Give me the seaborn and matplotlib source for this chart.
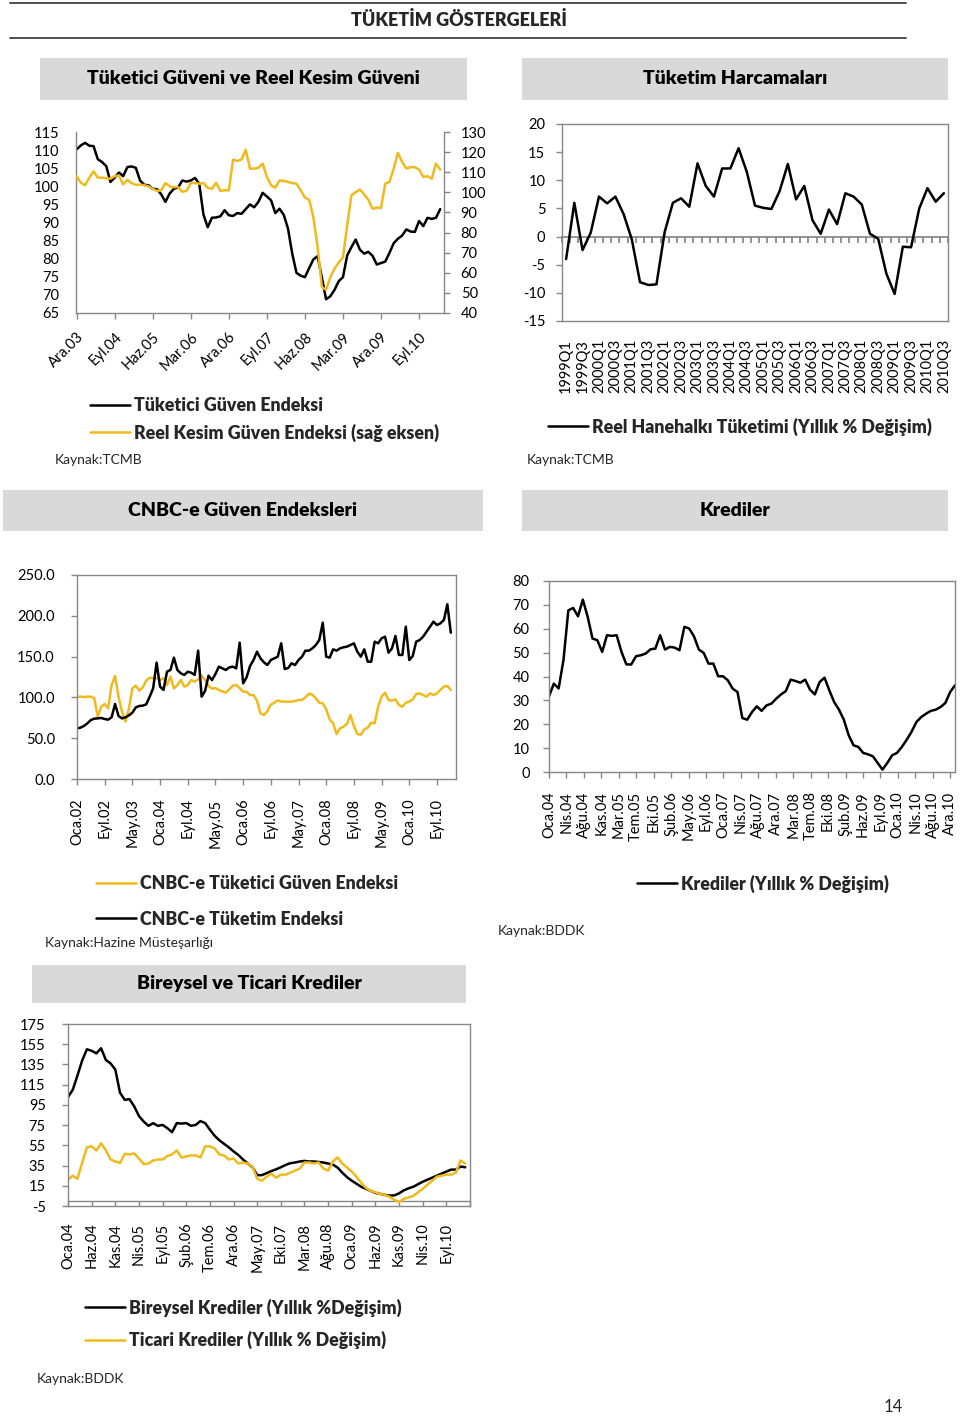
import numpy as np
import matplotlib
matplotlib.use("Agg")
import matplotlib.pyplot as plt
import seaborn as sns
from matplotlib.patches import Rectangle
from matplotlib.lines import Line2D
from matplotlib.ticker import FormatStrFormatter

sns.set_theme(style="white")
plt.rcParams['font.family'] = ['Lato', 'DejaVu Sans']
plt.rcParams['axes.unicode_minus'] = False

# ------------------------------------------------------------------ data
guven_labels = ['Ara.03', 'Eyl.04', 'Haz.05', 'Mar.06', 'Ara.06', 'Eyl.07',
                'Haz.08', 'Mar.09', 'Ara.09', 'Eyl.10']
tuketici_guven = [110.2, 111.3, 112.0, 111.2, 111.1, 107.5, 106.7, 105.6, 101.2, 102.4,
                  103.8, 102.8, 105.3, 105.5, 105.1, 101.6, 100.4, 100.3, 99.3, 99.2,
                  97.8, 95.7, 98.0, 99.3, 99.7, 101.6, 101.3, 101.6, 102.3, 100.7,
                  92.2, 88.7, 91.3, 91.4, 91.7, 93.4, 92.0, 91.8, 92.6, 92.4,
                  93.7, 95.0, 94.2, 95.7, 98.2, 97.2, 96.1, 92.6, 93.8, 92.1,
                  88.3, 81.4, 76.1, 75.3, 74.9, 77.4, 79.8, 80.7, 74.9, 68.8,
                  69.6, 71.4, 73.8, 74.9, 80.9, 83.2, 85.3, 82.5, 81.4, 81.9,
                  80.8, 78.4, 78.8, 79.2, 81.6, 84.3, 85.5, 86.4, 88.1, 87.5,
                  87.4, 90.4, 89.0, 91.3, 91.0, 91.3, 93.7]
reel_kesim_guven = [108.0, 104.8, 103.5, 107.3, 110.4, 107.3, 107.3, 107.0, 106.8, 108.0,
                    108.4, 103.9, 106.2, 104.6, 103.7, 103.9, 103.5, 103.0, 101.7, 100.7,
                    101.0, 104.6, 103.0, 102.6, 102.6, 100.3, 100.7, 104.6, 104.6, 104.3,
                    104.6, 102.3, 101.7, 104.8, 100.7, 101.0, 101.0, 116.3, 115.6, 116.3,
                    121.2, 111.8, 111.8, 112.2, 114.3, 107.7, 103.5, 102.3, 105.9, 105.7,
                    105.2, 104.6, 104.3, 101.0, 97.4, 96.3, 87.7, 72.8, 53.0, 51.5,
                    57.8, 62.0, 65.2, 67.7, 83.6, 98.5, 100.1, 101.4, 99.0, 96.3,
                    91.8, 92.4, 92.2, 104.3, 105.2, 111.8, 119.6, 115.1, 111.8, 112.5,
                    112.5, 111.3, 107.7, 108.0, 106.8, 114.3, 111.3]

harcama_labels = ['1999Q1', '1999Q3', '2000Q1', '2000Q3', '2001Q1', '2001Q3',
                  '2002Q1', '2002Q3', '2003Q1', '2003Q3', '2004Q1', '2004Q3',
                  '2005Q1', '2005Q3', '2006Q1', '2006Q3', '2007Q1', '2007Q3',
                  '2008Q1', '2008Q3', '2009Q1', '2009Q3', '2010Q1', '2010Q3']
reel_tuketim = [-4.0, 6.0, -2.4, 0.7, 7.1, 5.9, 7.1, 4.0, -0.5, -8.1,
                -8.6, -8.5, 0.8, 6.0, 6.8, 5.3, 13.0, 9.0, 7.1, 12.1,
                12.1, 15.7, 11.5, 5.5, 5.1, 4.9, 8.1, 12.9, 6.6, 9.0,
                2.9, 0.5, 4.8, 2.2, 7.7, 7.1, 5.7, 0.5, -0.4, -6.6,
                -10.2, -1.8, -1.9, 5.0, 8.6, 6.2, 7.7]

cnbc_labels = ['Oca.02', 'Eyl.02', 'May.03', 'Oca.04', 'Eyl.04', 'May.05', 'Oca.06',
               'Eyl.06', 'May.07', 'Oca.08', 'Eyl.08', 'May.09', 'Oca.10', 'Eyl.10']
cnbc_tuketim = [62.1, 62.9, 65.0, 68.2, 72.3, 73.9, 74.3, 74.8, 73.5, 72.7,
                75.6, 91.9, 77.2, 74.3, 75.6, 78.0, 81.3, 87.8, 89.5, 89.9,
                91.5, 100.9, 111.1, 142.6, 113.2, 109.1, 131.5, 133.6, 148.7, 133.6,
                129.5, 127.5, 131.5, 130.3, 127.5, 157.3, 100.9, 107.8, 126.6, 121.3,
                128.7, 137.7, 135.6, 133.6, 136.8, 137.7, 135.6, 167.1, 117.2, 124.6,
                138.5, 145.8, 156.0, 147.9, 143.0, 139.7, 145.8, 147.9, 149.9, 166.3,
                134.8, 136.0, 141.8, 139.7, 145.8, 149.9, 157.3, 157.3, 160.1, 164.2,
                170.3, 191.6, 149.9, 148.7, 158.9, 157.3, 160.1, 161.4, 162.2, 164.2,
                166.3, 156.0, 149.9, 158.9, 143.8, 143.8, 168.3, 166.3, 172.4, 174.4,
                154.8, 160.1, 175.3, 152.0, 152.0, 186.7, 145.8, 150.7, 168.3, 170.3,
                174.4, 180.6, 186.7, 192.8, 188.7, 190.8, 194.9, 214.1, 179.3]
cnbc_guven = [100.9, 100.9, 100.5, 100.9, 100.9, 98.9, 76.4, 88.6, 91.9, 86.6,
              115.2, 126.2, 100.9, 82.5, 70.3, 86.6, 111.1, 114.4, 108.3, 112.3,
              120.5, 124.2, 123.4, 123.4, 121.3, 123.4, 115.2, 125.4, 111.1, 115.2,
              121.3, 113.2, 115.2, 121.3, 119.3, 122.1, 126.6, 121.3, 114.0, 110.7,
              111.5, 109.1, 107.4, 105.8, 109.9, 114.4, 115.2, 111.5, 107.0, 107.0,
              102.9, 102.9, 96.0, 80.5, 78.4, 83.3, 91.1, 93.5, 96.4, 94.8,
              94.8, 94.8, 94.8, 95.6, 96.8, 96.8, 100.1, 104.6, 103.4, 98.9,
              93.5, 92.7, 85.4, 73.1, 68.2, 55.1, 62.1, 64.1, 67.4, 78.4,
              65.0, 55.1, 54.3, 60.9, 62.9, 69.0, 68.2, 88.6, 100.9, 105.8,
              96.8, 96.0, 97.6, 90.7, 88.6, 93.5, 94.8, 97.6, 104.2, 105.0,
              102.9, 100.9, 105.0, 102.9, 105.0, 109.1, 113.2, 114.0, 109.1]

kredi_labels = ['Oca.04', 'Nis.04', 'Ağu.04', 'Kas.04', 'Mar.05', 'Tem.05', 'Eki.05',
                'Şub.06', 'May.06', 'Eyl.06', 'Oca.07', 'Nis.07', 'Ağu.07', 'Ara.07',
                'Mar.08', 'Tem.08', 'Eki.08', 'Şub.09', 'Haz.09', 'Eyl.09', 'Oca.10',
                'Nis.10', 'Ağu.10', 'Ara.10']
krediler = [31.7, 37.0, 35.0, 47.0, 67.7, 68.7, 65.2, 72.2, 65.0, 55.9,
            55.2, 50.3, 57.3, 57.0, 57.3, 50.3, 45.1, 45.0, 48.5, 48.9,
            49.6, 51.4, 51.7, 57.3, 51.3, 52.4, 52.1, 51.0, 60.8, 60.1,
            56.8, 51.3, 49.9, 45.4, 45.4, 40.1, 40.1, 38.4, 34.9, 33.5,
            22.6, 21.9, 25.1, 27.5, 25.6, 27.9, 28.6, 30.7, 32.5, 33.9,
            38.7, 38.1, 37.4, 38.7, 34.5, 32.5, 37.7, 39.5, 34.2, 29.3,
            26.1, 21.9, 15.4, 11.2, 10.5, 8.0, 7.4, 6.6, 3.8, 1.0,
            3.8, 7.0, 8.0, 10.5, 13.5, 16.8, 20.9, 23.0, 24.4, 25.6,
            26.1, 27.2, 28.9, 33.5, 36.3]

bt_labels = ['Oca.04', 'Haz.04', 'Kas.04', 'Nis.05', 'Eyl.05', 'Şub.06', 'Tem.06',
             'Ara.06', 'May.07', 'Eki.07', 'Mar.08', 'Ağu.08', 'Oca.09', 'Haz.09',
             'Kas.09', 'Nis.10', 'Eyl.10']
bireysel = [102.7, 109.9, 124, 139, 150, 148.5, 146, 151, 139.5, 136,
            130, 107, 100, 100.7, 93.5, 84, 78.5, 74.3, 76.9, 74.3,
            75.2, 72, 68, 77, 76.5, 77, 74.3, 75.2, 79, 77,
            70.5, 64.5, 60, 56.5, 53, 49, 45.5, 41, 37, 33.5,
            25.5, 25.5, 27.5, 29.5, 31.3, 33.3, 35.6, 37.3, 38, 39,
            39.6, 39, 39, 38.5, 38, 37, 36, 33, 28, 23.5,
            20, 17, 14, 12, 10, 8, 7, 6, 5.3, 5.5,
            7.5, 10.5, 12.5, 14, 16.5, 19, 21, 23, 25, 27,
            29, 31, 31, 34, 33.3]
ticari = [21, 25, 22, 38, 53, 54, 50, 57, 50, 41,
          39, 37.5, 46.5, 46, 47, 42, 36.5, 37, 40, 41,
          41, 44.5, 46, 50, 43, 44, 45, 45, 43, 54,
          54, 52, 46, 45, 41, 42, 37, 38, 37, 34,
          22, 20, 24, 27, 23, 26, 26, 28, 30, 32,
          38, 38, 37, 38, 32, 30, 39, 43, 37, 33,
          29, 24, 18, 13, 10, 8.5, 7, 6, 4, 1,
          -1, 2, 3.5, 5, 8.5, 12, 16, 20, 24, 25,
          26, 26, 28, 40, 37]

# ------------------------------------------------------------------ style
W, H = 960, 1416
BLACK = '#000000'
GOLD = '#F0BA1E'
SPINE = '#878787'
BOXGRAY = '#D9D9D9'
LW = 1.8
TICK_FS = 10.5
LEG_FS = 12.8
SRC_FS = 10
HEAVY = 'heavy'

fig = plt.figure(figsize=(W / 100, H / 100), dpi=100)
fig.patch.set_facecolor('white')


def rect(l, t, r, b):
    return [l / W, 1 - b / H, (r - l) / W, (b - t) / H]


def fx(x):
    return x / W


def fy(y):
    return 1 - y / H


def style_axes(ax, spines=('left', 'right', 'top', 'bottom')):
    for s in ['left', 'right', 'top', 'bottom']:
        ax.spines[s].set_visible(s in spines)
        ax.spines[s].set_color(SPINE)
        ax.spines[s].set_linewidth(1.0)
    ax.grid(False)
    ax.set_facecolor('none')
    ax.tick_params(colors=SPINE, labelcolor='black', labelsize=TICK_FS, width=1.0)
    ax.set_xlabel('')
    ax.set_ylabel('')


def gray_box(l, t, r, b, text, cx=None):
    fig.add_artist(Rectangle((fx(l), fy(b)), (r - l) / W, (b - t) / H,
                             transform=fig.transFigure, facecolor=BOXGRAY,
                             edgecolor='none', zorder=0))
    cx = (l + r) / 2 if cx is None else cx
    fig.text(fx(cx), fy((t + b) / 2), text, ha='center', va='center',
             fontsize=14, fontweight=HEAVY, color='black')


def add_legend(handles, labels, x, y_first, gap):
    fpx = LEG_FS * 100 / 72
    fig.legend(handles, labels, loc='upper left',
               bbox_to_anchor=(fx(x), fy(y_first + 3 - fpx * 0.6)),
               bbox_transform=fig.transFigure, frameon=False, borderpad=0,
               borderaxespad=0, handlelength=40 / fpx, handletextpad=4 / fpx,
               labelspacing=(gap - fpx * 1.2 + 3.5) / fpx,
               prop={'weight': HEAVY, 'size': LEG_FS})


# ------------------------------------------------------------------ page header
fig.add_artist(Line2D([fx(10), fx(906)], [fy(3), fy(3)], transform=fig.transFigure,
                      color='#404040', lw=1.3))
fig.add_artist(Line2D([fx(10), fx(906)], [fy(38), fy(38)], transform=fig.transFigure,
                      color='#404040', lw=1.3))
fig.text(fx(459), fy(20), 'TÜKETİM GÖSTERGELERİ', ha='center', va='center',
         fontsize=13, fontweight=HEAVY)

gray_box(40, 58, 467, 100, 'Tüketici Güveni ve Reel Kesim Güveni')
gray_box(522, 58, 948, 100, 'Tüketim Harcamaları')
gray_box(3, 490, 483, 531, 'CNBC-e Güven Endeksleri', cx=243)
gray_box(522, 490, 948, 531, 'Krediler')
gray_box(32, 965, 466, 1003, 'Bireysel ve Ticari Krediler', cx=249)

# ------------------------------------------------------------------ chart 1
ax1 = fig.add_axes(rect(76, 132, 444, 313))
x1 = np.arange(len(tuketici_guven))
sns.lineplot(x=x1, y=tuketici_guven, ax=ax1, color=BLACK, lw=LW)
style_axes(ax1, spines=('left', 'bottom'))
ax1.set_ylim(65, 115)
ax1.set_yticks(np.arange(65, 116, 5))
ax1.set_xlim(-0.15, len(tuketici_guven) - 0.1)
ax1.set_xticks(x1[::9][:len(guven_labels)])
ax1.set_xticklabels(guven_labels, rotation=45, ha='right', va='top',
                    rotation_mode='anchor')
ax1.tick_params(axis='x', bottom=True, length=4, pad=8)
ax1.tick_params(axis='y', left=True, length=0, pad=12)

ax1b = ax1.twinx()
sns.lineplot(x=x1, y=reel_kesim_guven, ax=ax1b, color=GOLD, lw=LW)
style_axes(ax1b, spines=('right',))
ax1b.set_ylim(40, 130)
ax1b.set_yticks(np.arange(40, 131, 10))
ax1b.tick_params(axis='y', right=True, length=4, pad=8)

add_legend([ax1.get_lines()[0], ax1b.get_lines()[0]],
           ['Tüketici Güven Endeksi', 'Reel Kesim Güven Endeksi (sağ eksen)'],
           90, 405, 27)
fig.text(fx(55), fy(460), 'Kaynak:TCMB', ha='left', va='center', fontsize=SRC_FS)

# ------------------------------------------------------------------ chart 2
ax2 = fig.add_axes(rect(562, 124, 948, 321))
x2 = np.arange(len(reel_tuketim))
sns.lineplot(x=x2, y=reel_tuketim, ax=ax2, color=BLACK, lw=LW)
style_axes(ax2)
ax2.set_xlim(-0.5, len(reel_tuketim) - 0.5)
ax2.set_ylim(-15, 20)
ax2.set_yticks(np.arange(-15, 21, 5))
ax2.set_xticks(x2[::2][:len(harcama_labels)])
ax2.set_xticklabels(harcama_labels, rotation=90)
ax2.tick_params(axis='x', length=0, pad=13)
ax2.tick_params(axis='y', left=True, length=4, pad=8)
zero_pos = (0 - (-15)) / (20 - (-15))
sec2 = ax2.secondary_xaxis(zero_pos)
sec2.set_xticks(np.arange(-0.5, len(reel_tuketim), 1.0))
sec2.tick_params(axis='x', bottom=True, length=4, color=SPINE,
                 labelbottom=False, labeltop=False)
for s in sec2.spines.values():
    s.set_color(SPINE)

add_legend([ax2.get_lines()[0]], ['Reel Hanehalkı Tüketimi (Yıllık % Değişim)'],
           548, 425, 27)
fig.text(fx(527), fy(460), 'Kaynak:TCMB', ha='left', va='center', fontsize=SRC_FS)

# ------------------------------------------------------------------ chart 3
ax3 = fig.add_axes(rect(77, 575, 456, 779))
x3 = np.arange(len(cnbc_tuketim))
sns.lineplot(x=x3, y=cnbc_guven, ax=ax3, color=GOLD, lw=LW)
sns.lineplot(x=x3, y=cnbc_tuketim, ax=ax3, color=BLACK, lw=LW)
style_axes(ax3)
ax3.set_xlim(0, len(cnbc_tuketim) + 0.5)
ax3.set_ylim(0, 250)
ax3.set_yticks(np.arange(0, 251, 50))
ax3.yaxis.set_major_formatter(FormatStrFormatter('%.1f'))
ax3.set_xticks(x3[::8][:len(cnbc_labels)])
ax3.set_xticklabels(cnbc_labels, rotation=90)
ax3.tick_params(axis='x', bottom=True, length=4, pad=10)
ax3.tick_params(axis='y', left=True, length=4, pad=12)

l3 = ax3.get_lines()
add_legend([l3[0], l3[1]], ['CNBC-e Tüketici Güven Endeksi', 'CNBC-e Tüketim Endeksi'],
           96, 883, 36)
fig.text(fx(45), fy(943), 'Kaynak:Hazine Müsteşarlığı', ha='left', va='center', fontsize=SRC_FS)

# ------------------------------------------------------------------ chart 4
ax4 = fig.add_axes(rect(549, 581, 955, 772))
x4 = np.arange(len(krediler))
sns.lineplot(x=x4, y=krediler, ax=ax4, color=BLACK, lw=LW)
style_axes(ax4)
ax4.set_xlim(0, len(krediler) - 1)
ax4.set_ylim(0, 80)
ax4.set_yticks(np.arange(0, 81, 10))
ax4.set_xticks(np.linspace(0, len(krediler) - 2, len(kredi_labels)))
ax4.set_xticklabels(kredi_labels, rotation=90)
ax4.tick_params(axis='x', bottom=True, length=4, pad=10)
ax4.tick_params(axis='y', left=True, length=4, pad=10)

add_legend([ax4.get_lines()[0]], ['Krediler (Yıllık % Değişim)'], 637, 882, 27)
fig.text(fx(498), fy(931), 'Kaynak:BDDK', ha='left', va='center', fontsize=SRC_FS)

# ------------------------------------------------------------------ chart 5
ax5 = fig.add_axes(rect(68, 1024, 470, 1206))
x5 = np.arange(len(bireysel))
sns.lineplot(x=x5, y=bireysel, ax=ax5, color=BLACK, lw=LW)
sns.lineplot(x=x5, y=ticari, ax=ax5, color=GOLD, lw=LW)
style_axes(ax5)
ax5.axhline(0, color=SPINE, lw=1.0, zorder=1)
ax5.set_xlim(0, len(bireysel))
ax5.set_ylim(-5, 175)
ax5.set_yticks(np.arange(-5, 176, 20))
tick5 = np.arange(0, len(bireysel) + 1, 5)
ax5.set_xticks(tick5)
ax5.set_xticklabels(bt_labels + [''] * (len(tick5) - len(bt_labels)), rotation=90)
ax5.tick_params(axis='x', bottom=True, direction='in', length=3.8, width=1.0, pad=12)
ax5.tick_params(axis='y', left=True, length=4, pad=12)

l5 = ax5.get_lines()
add_legend([l5[0], l5[1]],
           ['Bireysel Krediler (Yıllık %Değişim)', 'Ticari Krediler (Yıllık % Değişim)'],
           85, 1306, 32)
fig.text(fx(37), fy(1379), 'Kaynak:BDDK', ha='left', va='center', fontsize=SRC_FS)

fig.text(fx(893), fy(1407), '14', ha='center', va='center', fontsize=12)

fig.savefig('out.png', dpi=100, facecolor='white')
